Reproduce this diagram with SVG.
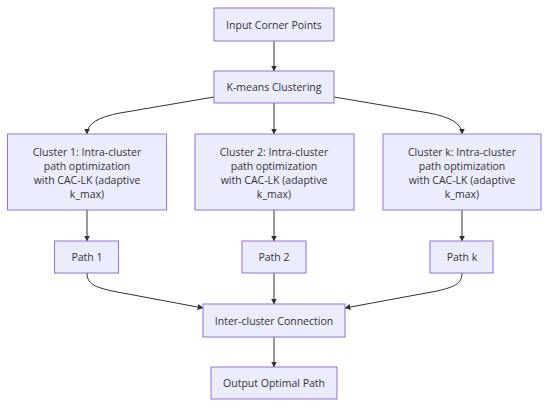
<svg xmlns="http://www.w3.org/2000/svg" width="550" height="408" viewBox="0 0 550 408">
<defs>
<style>
.node rect{fill:#ECECFF;stroke:#9370DB;stroke-width:1}
.node text{font-family:"Open Sans","DejaVu Sans",sans-serif;font-size:10.5px;fill:#333;text-anchor:middle;dominant-baseline:central}
.edges path{fill:none;stroke:#333;stroke-width:1;marker-end:url(#arr)}
</style>
<marker id="arr" viewBox="0 0 10 10" refX="9" refY="5" markerWidth="6" markerHeight="6" markerUnits="userSpaceOnUse" orient="auto">
<path d="M0,0 L10,5 L0,10 z" fill="#333"/>
</marker>
</defs>
<rect width="550" height="408" fill="#fff"/>
<g class="edges">
<path d="M274,41 L274,71"/>
<path d="M214,97 L120,113 Q87,119 87,134"/>
<path d="M274,103 L274,134"/>
<path d="M334,97 L429,113 Q462,119 462,134"/>
<path d="M87,210 L87,241"/>
<path d="M274,210 L274,241"/>
<path d="M462,210 L462,241"/>
<path d="M87,273 C87,284 95,287 112,291 L203,308"/>
<path d="M274,273 L274,304"/>
<path d="M462,273 C462,284 454,287 437,291 L345,308"/>
<path d="M274,337 L274,367"/>
</g>
<g id="input" class="node"><rect x="214" y="8" width="120" height="33"/><text x="274" y="24.5">Input Corner Points</text></g>
<g id="kmeans" class="node"><rect x="214" y="71" width="120" height="32"/><text x="274" y="87">K-means Clustering</text></g>
<g id="cluster1" class="node"><rect x="7.5" y="134" width="159" height="76"/><text x="87" y="152">Cluster 1: Intra-cluster</text><text x="87" y="166">path optimization</text><text x="87" y="180">with CAC-LK (adaptive</text><text x="87" y="194">k_max)</text></g>
<g id="cluster2" class="node"><rect x="195" y="134" width="159" height="76"/><text x="274" y="152">Cluster 2: Intra-cluster</text><text x="274" y="166">path optimization</text><text x="274" y="180">with CAC-LK (adaptive</text><text x="274" y="194">k_max)</text></g>
<g id="clusterk" class="node"><rect x="383" y="134" width="158" height="76"/><text x="462" y="152">Cluster k: Intra-cluster</text><text x="462" y="166">path optimization</text><text x="462" y="180">with CAC-LK (adaptive</text><text x="462" y="194">k_max)</text></g>
<g id="path1" class="node"><rect x="54.5" y="241" width="64" height="32"/><text x="87" y="257">Path 1</text></g>
<g id="path2" class="node"><rect x="242" y="241" width="64" height="32"/><text x="274" y="257">Path 2</text></g>
<g id="pathk" class="node"><rect x="430" y="241" width="63" height="32"/><text x="462" y="257">Path k</text></g>
<g id="inter" class="node"><rect x="203" y="304" width="142" height="33"/><text x="274" y="320.5">Inter-cluster Connection</text></g>
<g id="output" class="node"><rect x="211" y="367" width="126" height="32"/><text x="274" y="383">Output Optimal Path</text></g>
</svg>
